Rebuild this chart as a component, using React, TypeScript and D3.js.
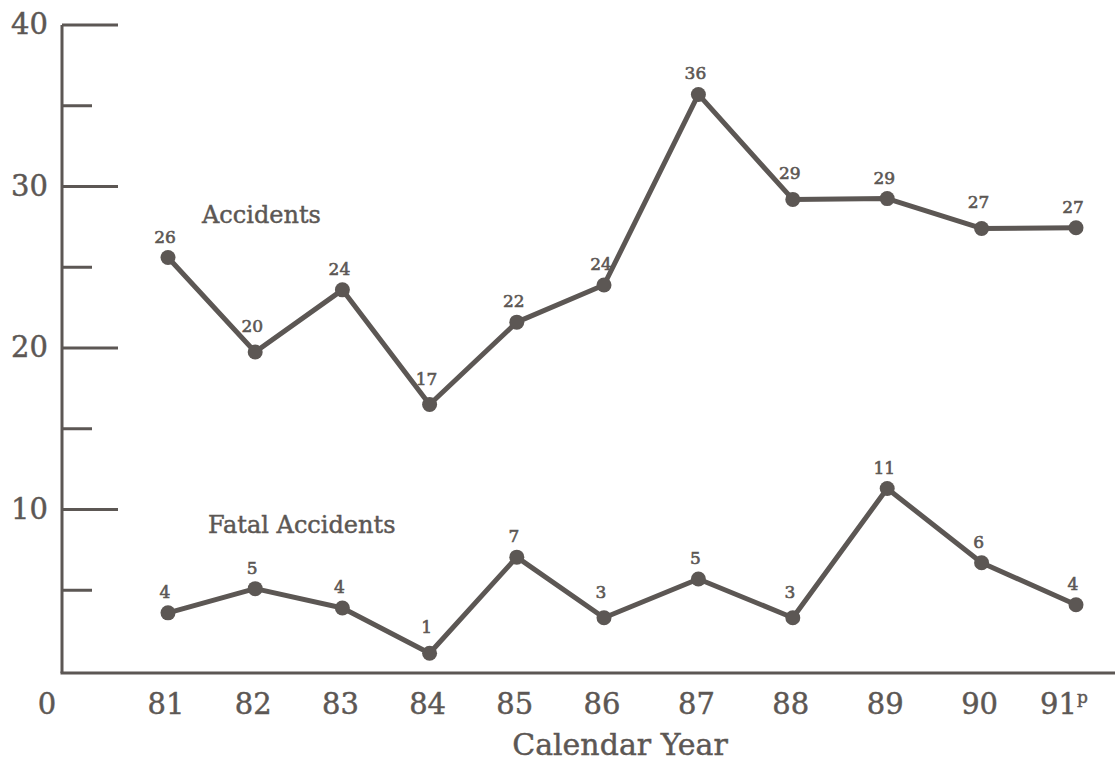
import React from "react";
import * as d3 from "d3";

const years = [81, 82, 83, 84, 85, 86, 87, 88, 89, 90, 91];
const yearLabels = ["81", "82", "83", "84", "85", "86", "87", "88", "89", "90", "91"];
const accidents = [25.6, 19.75, 23.6, 16.5, 21.6, 23.9, 35.7, 29.2, 29.25, 27.4, 27.45];
const accidentLabels = ["26", "20", "24", "17", "22", "24", "36", "29", "29", "27", "27"];
const fatal = [3.6, 5.1, 3.9, 1.1, 7.05, 3.3, 5.7, 3.3, 11.3, 6.7, 4.1];
const fatalLabels = ["4", "5", "4", "1", "7", "3", "5", "3", "11", "6", "4"];
const majorTicks = [10, 20, 30, 40];
const minorTicks = [5, 15, 25, 35];

const W = 1118;
const H = 764;
const INK = "#5c5754";
const FONT = "'DejaVu Serif', serif";

export default function App() {
  const x = d3.scaleLinear().domain([81, 86, 91]).range([168, 604, 1076]);
  const y = d3.scaleLinear().domain([0, 40]).range([671, 25]);
  const axisX = 62;
  const axisY = 673;

  const line = d3
    .line<number>()
    .x((_, i) => x(years[i]))
    .y((d) => y(d));

  const series = [
    { values: accidents, labels: accidentLabels, name: "Accidents", nameX: 202, nameY: 223 },
    { values: fatal, labels: fatalLabels, name: "Fatal Accidents", nameX: 208, nameY: 533 },
  ];

  // push a label a bit higher when it sits in a valley (both neighbours higher)
  const labelDy = (vals: number[], i: number) => {
    const prev = i > 0 ? vals[i - 1] : -Infinity;
    const next = i < vals.length - 1 ? vals[i + 1] : -Infinity;
    return prev > vals[i] && next > vals[i] ? -20 : -15;
  };

  const textStyle = { stroke: INK, strokeWidth: 0.45 } as const;

  return (
    <svg
      width={W}
      height={H}
      viewBox={`0 0 ${W} ${H}`}
      style={{ position: "fixed", left: 0, top: 0, background: "#fff" }}
    >
      <rect x={0} y={0} width={W} height={H} fill="#fff" />
      {/* axes */}
      <line x1={axisX} x2={axisX} y1={y(40)} y2={axisY} stroke={INK} strokeWidth={3} />
      <line x1={axisX - 1.5} x2={1115} y1={axisY} y2={axisY} stroke={INK} strokeWidth={3} />
      {majorTicks.map((t) => (
        <g key={"M" + t}>
          <line x1={axisX} x2={axisX + 56} y1={y(t)} y2={y(t)} stroke={INK} strokeWidth={3} />
          <text
            x={48}
            y={y(t) + 9}
            textAnchor="end"
            fontFamily={FONT}
            fontSize={29}
            fill={INK}
            {...textStyle}
          >
            {t}
          </text>
        </g>
      ))}
      {minorTicks.map((t) => (
        <line key={"m" + t} x1={axisX} x2={axisX + 30} y1={y(t)} y2={y(t)} stroke={INK} strokeWidth={3} />
      ))}
      <text x={47} y={714} textAnchor="middle" fontFamily={FONT} fontSize={29} fill={INK} {...textStyle}>
        0
      </text>
      {years.map((yr, i) =>
        i === years.length - 1 ? (
          <text key={yr} x={x(yr) - 12} y={714} textAnchor="middle" fontFamily={FONT} fontSize={29} fill={INK} {...textStyle}>
            {yearLabels[i]}
            <tspan fontSize={17} dy={-11}>p</tspan>
          </text>
        ) : (
          <text key={yr} x={x(yr) - 2} y={714} textAnchor="middle" fontFamily={FONT} fontSize={29} fill={INK} {...textStyle}>
            {yearLabels[i]}
          </text>
        )
      )}
      <text x={620} y={755} textAnchor="middle" fontFamily={FONT} fontSize={30} fill={INK} {...textStyle}>
        Calendar Year
      </text>

      {series.map((s) => (
        <g key={s.name}>
          <path d={line(s.values) || ""} fill="none" stroke={INK} strokeWidth={5} strokeLinejoin="round" />
          {s.values.map((v, i) => (
            <circle key={i} cx={x(years[i])} cy={y(v)} r={7.5} fill={INK} />
          ))}
          {s.values.map((v, i) => (
            <text
              key={"l" + i}
              x={x(years[i]) - 3}
              y={y(v) + labelDy(s.values, i)}
              textAnchor="middle"
              fontFamily={FONT}
              fontSize={17}
              fill={INK}
              stroke={INK}
              strokeWidth={0.6}
            >
              {s.labels[i]}
            </text>
          ))}
          <text x={s.nameX} y={s.nameY} fontFamily={FONT} fontSize={24} fill={INK} {...textStyle}>
            {s.name}
          </text>
        </g>
      ))}
    </svg>
  );
}
